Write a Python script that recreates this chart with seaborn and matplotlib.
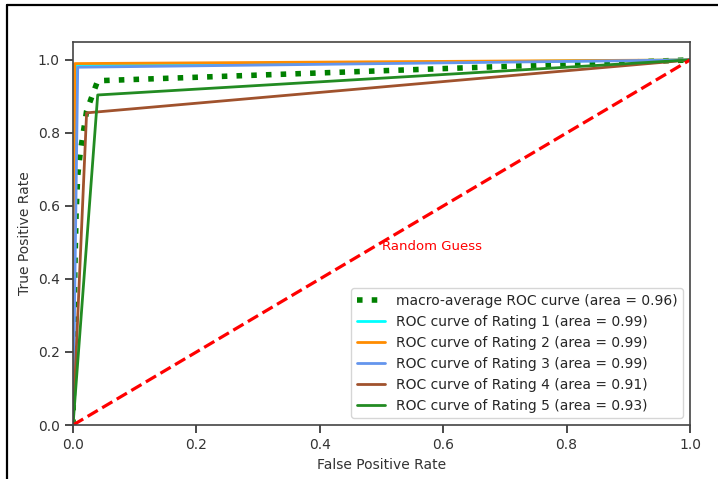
import numpy as np
import pandas as pd
import matplotlib
matplotlib.use("Agg")
import matplotlib.pyplot as plt
import seaborn as sns
from matplotlib.lines import Line2D

# ROC curve points
macro_fpr = [0.0, 0.003, 0.005, 0.0076, 0.012, 0.022, 0.04, 1.0]
macro_tpr = [0.0, 0.43, 0.58, 0.683, 0.75, 0.86, 0.943, 1.0]

rating_names = ["Rating 1", "Rating 2", "Rating 3", "Rating 4", "Rating 5"]
rating_auc = [0.99, 0.99, 0.99, 0.91, 0.93]
rating_fpr = [
    [0.0, 0.005, 1.0],
    [0.0, 0.003, 1.0],
    [0.0, 0.0076, 1.0],
    [0.0, 0.022, 1.0],
    [0.0, 0.04, 1.0],
]
rating_tpr = [
    [0.0, 0.985, 1.0],
    [0.0, 0.99, 1.0],
    [0.0, 0.98, 1.0],
    [0.0, 0.855, 1.0],
    [0.0, 0.904, 1.0],
]
rating_colors = ["aqua", "darkorange", "cornflowerblue", "sienna", "forestgreen"]

sns.set_theme(style="ticks")
plt.rcParams["font.family"] = ["DejaVu Sans"]

fig = plt.figure(figsize=(7.18, 4.79), dpi=100)
ax = fig.add_axes([0.1017, 0.1127, 0.8593, 0.8003])

sns.lineplot(x=macro_fpr, y=macro_tpr, ax=ax, sort=False, estimator=None,
             color="green", linestyle=":", lw=4,
             label="macro-average ROC curve (area = 0.96)")

for name, auc, fpr, tpr, c in zip(rating_names, rating_auc, rating_fpr, rating_tpr, rating_colors):
    sns.lineplot(x=fpr, y=tpr, ax=ax, sort=False, estimator=None, color=c, lw=2,
                 label=f"ROC curve of {name} (area = {auc:.2f})")

# chance line
ax.plot([0, 1], [0, 1], color="red", linestyle="--", lw=2.3)
ax.text(0.5, 0.49, "Random Guess", color="red", fontsize=9.5, va="center")

ax.set_xlim(0.0, 1.0)
ax.set_ylim(0.0, 1.05)
ax.set_xticks([0.0, 0.2, 0.4, 0.6, 0.8, 1.0])
ax.set_yticks([0.0, 0.2, 0.4, 0.6, 0.8, 1.0])
ax.tick_params(labelsize=10, colors="#333333")
for s in ax.spines.values():
    s.set_color("#444444")
    s.set_linewidth(1.2)
ax.set_xlabel("False Positive Rate", fontsize=10, color="#333333")
ax.set_ylabel("True Positive Rate", fontsize=10, color="#333333")
ax.legend(loc="lower right", fontsize=10, frameon=True)

# page frame around the screenshot
fig.add_artist(Line2D([0.0098, 0.0098], [0.0, 0.99], color="black", lw=1.6, transform=fig.transFigure))
fig.add_artist(Line2D([0.0098, 1.0], [0.99, 0.99], color="black", lw=1.6, transform=fig.transFigure))

fig.savefig("out.png", dpi=100)
